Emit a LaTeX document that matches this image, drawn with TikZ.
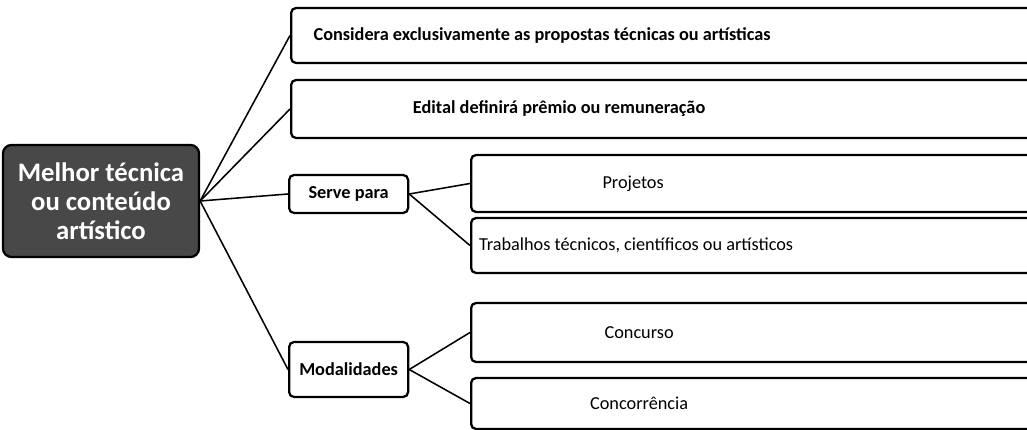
\documentclass[tikz,border=0pt]{standalone}
\usepackage{fontspec}
\setmainfont{Carlito}
\usetikzlibrary{positioning, calc}
\definecolor{rootcolor}{RGB}{72, 72, 72}

\begin{document}
\begin{tikzpicture}[
    box/.style={rectangle, rounded corners=3.5pt, draw=black, line width=1.6pt, fill=white, anchor=west, inner sep=0pt},
    topic/.style={box, minimum width=2.975cm, font=\fontsize{13}{15}\selectfont\bfseries},
    wide/.style={box, minimum width=18.75cm},
    leaf/.style={box, minimum width=14.25cm},
    plaintext/.style={font=\fontsize{13}{15}\selectfont},
    boldtext/.style={font=\fontsize{13}{15}\selectfont\bfseries},
    root/.style={rectangle, rounded corners=6pt, draw=black, line width=1.6pt, fill=rootcolor, text=white, align=center,
        minimum width=4.9cm, minimum height=2.8cm, font=\fontsize{19}{20.5}\selectfont\bfseries},
    link/.style={line width=1.1pt},
]
    % Frame
    \useasboundingbox (0,0) rectangle (25.675,-10.75);
    % Root
    \node[root] (root) at (2.525,-5.025) {Melhor técnica\\ou conteúdo\\artístico};
    % First level
    \node[wide, minimum height=1.375cm, label={[boldtext, xshift=-3.1cm]center:Considera exclusivamente as propostas técnicas ou artísticas}] (exclusivas) at (7.25,-0.8875) {};
    \node[wide, minimum height=1.45cm, label={[boldtext, xshift=-2.675cm]center:Edital definirá prêmio ou remuneração}] (premio) at (7.25,-2.725) {};
    \node[topic, minimum height=0.95cm] (serve) at (7.2,-4.85) {Serve para};
    \node[topic, minimum height=1.375cm] (modal) at (7.2,-9.2375) {Modalidades};
    % Second level
    \node[leaf, minimum height=1.425cm, label={[plaintext, xshift=-3.075cm]center:Projetos}] (projetos) at (11.75,-4.5875) {};
    \node[leaf, minimum height=1.375cm, label={[plaintext, xshift=-3.0cm]center:Trabalhos técnicos, científicos ou artísticos}] (trabalhos) at (11.75,-6.1375) {};
    \node[leaf, minimum height=1.475cm, label={[plaintext, xshift=-2.925cm]center:Concurso}] (concurso) at (11.75,-8.3125) {};
    \node[leaf, minimum height=1.275cm, label={[plaintext, xshift=-2.925cm]center:Concorrência}] (concorrencia) at (11.75,-10.0875) {};
    % Connectors
    \foreach \t in {exclusivas, premio, serve, modal}
        \draw[link] (root.east) -- (\t.west);
    \foreach \t in {projetos, trabalhos}
        \draw[link] (serve.east) -- (\t.west);
    \foreach \t in {concurso, concorrencia}
        \draw[link] (modal.east) -- (\t.west);
\end{tikzpicture}
\end{document}
